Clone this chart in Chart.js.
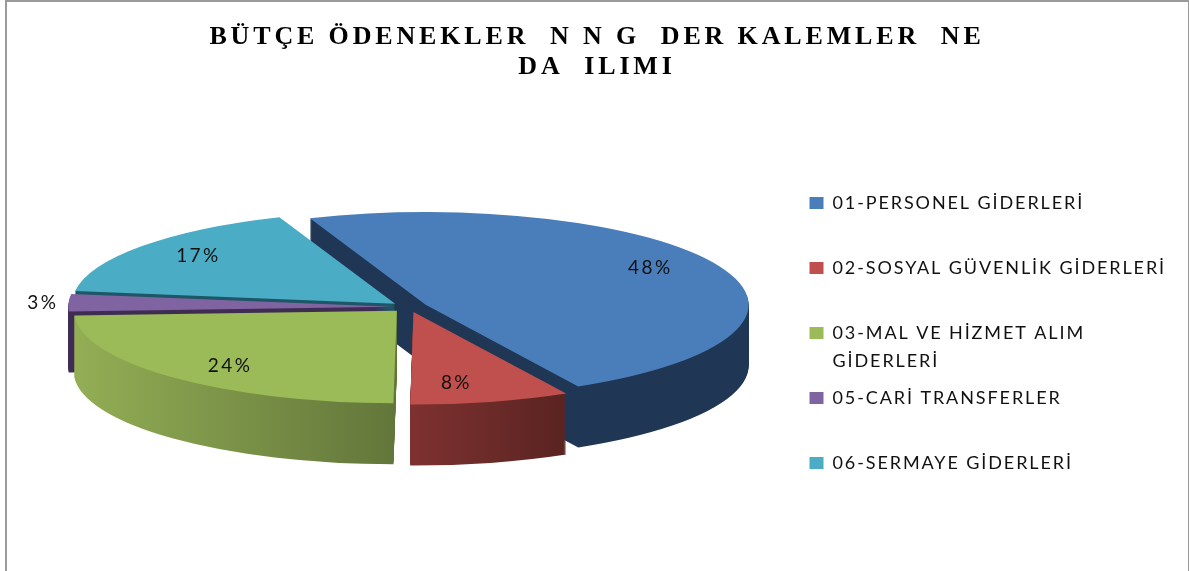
<!DOCTYPE html>
<html lang="tr">
<head>
<meta charset="utf-8">
<title>Bütçe ödeneklerinin</title>
<script src="https://cdn.jsdelivr.net/npm/chart.js@4"></script>
<style>
html,body{margin:0;padding:0;background:#fff;overflow:hidden}
#wrap{position:relative;width:1189px;height:571px;overflow:hidden}
#frame{position:absolute;left:5px;top:0;width:1181px;height:600px;border:2px solid #9a9a9a;box-sizing:content-box;pointer-events:none}
canvas{position:absolute;left:0;top:0}
</style>
</head>
<body>
<div id="wrap"><canvas id="c" width="1189" height="571"></canvas><div id="frame"></div></div>
<script>
const titleLines = ['BÜTÇE ÖDENEKLER  N N G  DER KALEMLER  NE', 'DA  ILIMI'];
const categories = ['01-PERSONEL GİDERLERİ', '02-SOSYAL GÜVENLİK GİDERLERİ', '03-MAL VE HİZMET ALIM\nGİDERLERİ', '05-CARİ TRANSFERLER', '06-SERMAYE GİDERLERİ'];
const shares = [48, 8, 24, 3, 17];
const topColors = ['#4a7ebb', '#c0504d', '#9bbb59', '#8064a2', '#4bacc6'];
const wallLeft = ['#1f3654', '#7d3130', '#93ae55', '#3e2c52', '#1d5666'];
const wallRight = ['#1f3654', '#5a2421', '#62763a', '#3e2c52', '#1d5666'];
const paintOrder = [0, 4, 3, 2, 1];
const labelReach = [0.80, 0.78, 0.79, 1.08, 0.80];
const labelTurn = [-5, 4, -3, 0, 2];

const SQUASH = 0.287, DEPTH = 61, R = 323, EXPLODE = 18;
const RAD = Math.PI / 180;

function spaced(obj, method, spacing) {
  const orig = obj[method];
  obj[method] = function () {
    const ctx = this.ctx;
    const prev = ctx.letterSpacing;
    ctx.letterSpacing = spacing;
    const res = orig.apply(this, arguments);
    ctx.letterSpacing = prev;
    return res;
  };
}

const textSpacing = {
  id: 'textSpacing',
  beforeLayout(chart) {
    if (chart.$spaced) return;
    chart.$spaced = true;
    spaced(chart.titleBlock, 'draw', '3.85px');
    spaced(chart.legend, 'fit', '1.9px');
    const leg = chart.legend, draw = leg.draw;
    leg.draw = function () {
      const ctx = this.ctx;
      ctx.save();
      ctx.letterSpacing = '1.9px';
      ctx.translate(0, 165);
      draw.apply(this, arguments);
      ctx.restore();
    };
  }
};

const pie3d = {
  id: 'pie3d',
  beforeDatasetsDraw(chart) {
    const ctx = chart.ctx, arcs = chart.getDatasetMeta(0).data;
    const cy = arcs[0].y;
    const place = (arc, k) => {
      const mid = (arc.startAngle + arc.endAngle) / 2;
      ctx.translate(0, cy + k);
      ctx.scale(1, SQUASH);
      ctx.translate(Math.cos(mid) * EXPLODE, Math.sin(mid) * EXPLODE - cy);
    };
    const drawWith = (arc, fill) => {
      const saved = arc.options;
      const o = Object.create(saved);
      o.backgroundColor = fill;
      arc.options = o;
      arc.draw(ctx);
      arc.options = saved;
    };
    paintOrder.forEach(i => {
      const arc = arcs[i];
      const span = i === 1 ? [arc.x, arc.x + 150] : [arc.x - R, arc.x];
      const g = ctx.createLinearGradient(span[0], 0, span[1], 0);
      g.addColorStop(0, wallLeft[i]);
      g.addColorStop(1, wallRight[i]);
      for (let k = DEPTH; k >= 1; k--) {
        ctx.save(); place(arc, k); drawWith(arc, g); ctx.restore();
      }
      ctx.save(); place(arc, 0); drawWith(arc, topColors[i]); ctx.restore();
    });
    ctx.save();
    ctx.font = '19px Lato';
    ctx.letterSpacing = '2.4px';
    ctx.textAlign = 'center';
    ctx.textBaseline = 'middle';
    ctx.fillStyle = '#111';
    arcs.forEach((arc, i) => {
      const mid = (arc.startAngle + arc.endAngle) / 2;
      const a = mid + labelTurn[i] * RAD;
      const rr = labelReach[i] * R;
      const x = arc.x + Math.cos(mid) * EXPLODE + Math.cos(a) * rr;
      const y = cy + (Math.sin(mid) * EXPLODE + Math.sin(a) * rr) * SQUASH;
      ctx.fillText(shares[i] + '%', x, y);
    });
    ctx.restore();
    return false;
  }
};

new Chart(document.getElementById('c'), {
  type: 'pie',
  data: {
    labels: categories,
    datasets: [{ data: shares, backgroundColor: topColors, borderWidth: 0, hoverOffset: 0 }]
  },
  options: {
    responsive: false,
    animation: false,
    rotation: -21,
    radius: R,
    layout: { padding: { left: 18, right: 13, top: 20, bottom: 43 } },
    plugins: {
      tooltip: { enabled: false },
      title: {
        display: true,
        text: titleLines,
        color: '#000',
        font: { family: '"Liberation Serif"', size: 26, weight: 'bold', lineHeight: 1.15 },
        padding: { top: 2, bottom: 4 }
      },
      legend: {
        position: 'right',
        align: 'start',
        labels: {
          boxWidth: 14,
          boxHeight: 12,
          padding: 9,
          color: '#111',
          font: { family: 'Lato', size: 18, lineHeight: '28px' },
          generateLabels: chart => categories.map((c, i) => {
            const lines = c.split('\n');
            return {
              text: lines.length > 1 ? lines : [lines[0], ''],
              fillStyle: topColors[i],
              strokeStyle: topColors[i],
              lineWidth: 0,
              fontColor: '#111',
              index: i
            };
          })
        }
      }
    }
  },
  plugins: [textSpacing, pie3d]
});
</script>
</body>
</html>
